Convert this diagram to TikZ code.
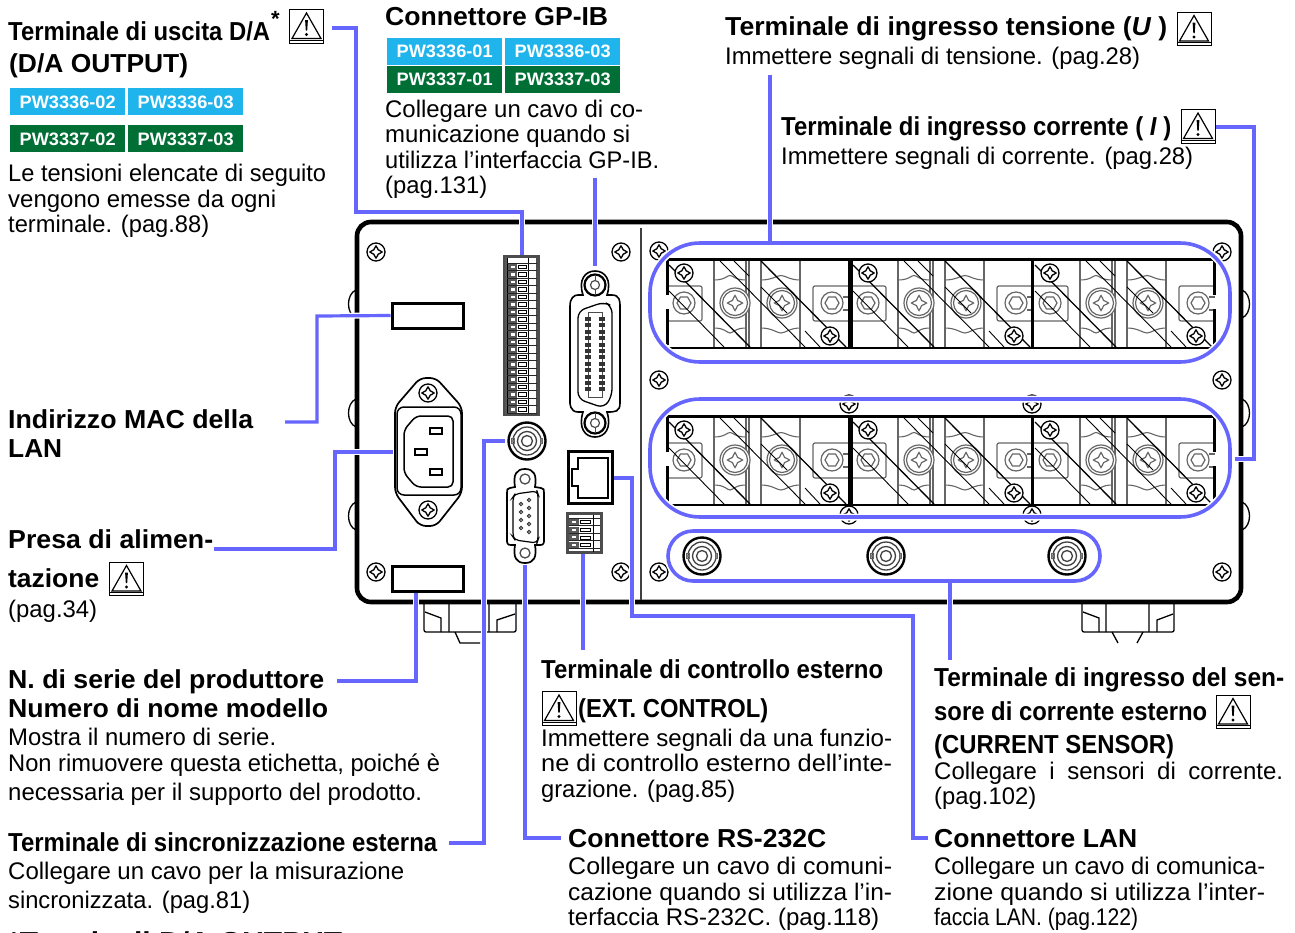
\documentclass[tikz,border=0pt]{standalone}
\usepackage{fontspec}
\setmainfont{Liberation Sans}
\definecolor{blueC}{HTML}{6666FF}
\definecolor{tagB}{HTML}{1FB5EC}
\definecolor{tagG}{HTML}{006F35}
\definecolor{grayL}{HTML}{666666}
\newsavebox\fitb
\newcommand\fitw[2]{\sbox\fitb{#2}\pgfmathsetmacro\fitr{#1/\the\wd\fitb}\scalebox{\fitr}[1]{\usebox\fitb}}
\newcommand\hd[5]{\node[headtext] (#1) at (#2,#3) {\fitw{#4}{#5}};}
\newcommand\bd[5]{\node[bodytext] (#1) at (#2,#3) {\fitw{#4}{#5}};}
\newcommand\tagb[5]{\node[tagbox,fill=#1] (#2) at (#3,#4) {}; \node[tagtext] (#2t) at (#3-48,#4+6.5) {\fitw{96}{#5}};}
\tikzset{
 headtext/.style={anchor=base west,inner sep=0pt,font=\fontsize{26}{30}\selectfont\bfseries},
 bodytext/.style={anchor=base west,inner sep=0pt,font=\fontsize{24}{28}\selectfont},
 tagbox/.style={minimum width=115pt,minimum height=27pt,inner sep=0pt,draw=none},
 tagtext/.style={anchor=base west,inner sep=0pt,text=white,font=\fontsize{18}{20}\selectfont\bfseries},
 labelbox/.style={draw=black,line width=3pt,inner sep=0pt,minimum width=71pt,minimum height=25pt},
 conn/.style={draw=blueC,line width=3.2pt,preaction={draw=white,line width=6pt}},
 group/.style={draw=blueC,line width=3.6pt,preaction={draw=white,line width=7pt}},
 screw/.pic={
  \draw[black,line width=1.3pt,fill=white] (0,0) circle (9);
  \draw[black,line width=1.3pt,fill=white] plot[smooth cycle,tension=.8] coordinates {(6,0)(2.2,2.2)(0,6)(-2.2,2.2)(-6,0)(-2.2,-2.2)(0,-6)(2.2,-2.2)};
 },
 bigcross/.pic={
  \draw[grayL,line width=1.2pt,fill=white] (0,0) circle (15) (0,0) circle (12.5);
  \draw[grayL,line width=1.2pt] plot[smooth cycle,tension=.8] coordinates {(7.5,0)(2.6,2.6)(0,7.5)(-2.6,2.6)(-7.5,0)(-2.6,-2.6)(0,-7.5)(2.6,-2.6)};
 },
 hexnut/.pic={
  \draw[grayL,line width=1.2pt,fill=white] (0,0) circle (11);
  \draw[grayL,line width=1.2pt] (0:7)--(60:7)--(120:7)--(180:7)--(240:7)--(300:7)--cycle;
 },
 bnc/.pic={
  \draw[black,line width=2.4pt,fill=white] (0,0) circle (18.5);
  \draw[black!75,line width=1.3pt] (0,0) circle (14) (0,0) circle (9.5) (0,0) circle (5.5);
  \draw[black!60,line width=1pt] (-15.5,-2.5) rectangle (-13,2.5) (13,-2.5) rectangle (15.5,2.5);
 },
 warnicon/.pic={
  \draw[black,line width=1pt,fill=white] (0,0) rectangle (34,33.5);
  \draw[black,line width=.8pt] (0,30.5)--(34,30.5);
  \draw[black,line width=1.2pt,line join=miter] (17,3.5)--(31.5,29)--(2.5,29)--cycle;
  \fill[black] (15.6,10.5)--(18.4,10.5)--(17.7,21)--(16.3,21)--cycle;
  \fill[black] (17,25) circle (1.7);
 },
 tmodule/.pic={
  \draw[grayL,line width=1.2pt] (47,0)--(47,89) (79,0)--(79,89) (82,0)--(82,89) (94,0)--(94,89) (133,0)--(133,89);
  \draw[grayL,line width=1.2pt,rounded corners=2pt,fill=white] (0,27)--(35,27)--(35,62)--(0,62);
  \draw[grayL,line width=1.2pt,rounded corners=2pt,fill=white] (182,27)--(146,27)--(146,62)--(182,62);
  \draw[grayL,line width=1.1pt]
    (47,21) .. controls (58,21) and (60,16.5) .. (63,16.5) .. controls (66,16.5) and (68,21) .. (79,21)
    (47,69) .. controls (58,69) and (60,74) .. (63,74) .. controls (66,74) and (68,69) .. (79,69)
    (94,21) .. controls (105,21) and (110,16.5) .. (114,16.5) .. controls (118,16.5) and (123,21) .. (133,21)
    (94,69) .. controls (105,69) and (110,74) .. (114,74) .. controls (118,74) and (123,69) .. (133,69);
  \pic at (17,44) {hexnut};
  \pic at (68,44) {bigcross};
  \pic at (115,44) {bigcross};
  \pic at (165,44) {hexnut};
  \draw[grayL,line width=1.2pt] (176,38)--(182,38) (176,51)--(182,51) (0,38)--(0,38);
  \draw[black,line width=.9pt] (2,32)--(57,88) (53,2)--(138,88) (67,2)--(82,17) (138,72)--(153,88) (94,28)--(120,54);
  \draw[black,line width=1.3pt] (2,6)--(83,88) (94,2)--(179,88);
  \pic at (17,14) {screw};
  \pic at (163,77) {screw};
  \draw[black,line width=3pt] (0,0)--(182,0);
  \draw[black,line width=2.2pt] (0,89)--(182,89);
 },
}
\begin{document}
\begin{tikzpicture}[x=1pt,y=-1pt]
\useasboundingbox (0,0) rectangle (1295,932);
\fill[white] (0,0) rectangle (1295,932);

% side bumps
\foreach \y in {290,399,502}{
 \draw[black,line width=1.3pt] (356,\y) .. controls (346,\y+4) and (346,\y+24) .. (356,\y+28);
 \draw[black,line width=1.3pt] (1242,\y) .. controls (1252,\y+4) and (1252,\y+24) .. (1242,\y+28);
}
% feet
\draw[black,line width=1.3pt,rounded corners=2pt] (424,602)--(424,632)--(516,632)--(516,602);
\draw[black,line width=1.3pt] (441,632)--(441,618)--(425,612) (449,604)--(449,632) (489,604)--(489,632) (497,632)--(497,620)--(515,614) (455,632)--(460,643)--(480,643);
\draw[black,line width=1.3pt,rounded corners=2pt] (1082,602)--(1082,632)--(1174,632)--(1174,602);
\draw[black,line width=1.3pt] (1099,632)--(1099,618)--(1083,612) (1106,604)--(1106,632) (1149,604)--(1149,632) (1157,632)--(1157,620)--(1173,614) (1112,632)--(1118,643) (1143,632)--(1137,643);

% housing
\node[draw=black,line width=4.6pt,rounded corners=14pt,inner sep=0pt,minimum width=884pt,minimum height=380pt,fill=white] (housing) at (799,412) {};
\draw[black!75,line width=2pt] (641,228)--(641,600);

% screws
\foreach \x/\y in {376/252,621/252,376/572,621/572,659/251,659/380,1222/252,1222/380,1222/572,659/572,849/404,1032/404,849/515,1032/515}{
 \pic at (\x,\y) {screw};
}

% label plates
\node[labelbox] (macbox) at (427.5,315.5) {};
\node[labelbox] (serialbox) at (427.5,578.5) {};

% D/A terminal block
\node[draw=black!70,line width=2.4pt,fill=white,inner sep=0pt,minimum width=34pt,minimum height=158pt] (dablock) at (521.5,335.5) {};
\fill[black!65] (505,257) rectangle (507.5,414);
\fill[black!70] (536,257) rectangle (538,414);
\draw[black,line width=.8pt] (528,258)--(528,414) (507,258)--(507,414);
\foreach \i in {0,...,20}{
 \draw[black!85,line width=.9pt] (507,263+\i*7.5)--(537,263+\i*7.5);
}
\foreach \i in {0,...,19}{
 \fill[black!65] (507.5,263.5+\i*7.5) rectangle (516.5,270+\i*7.5);
 \fill[white] (511,265.5+\i*7.5) rectangle (515,268+\i*7.5);
 \draw[black,line width=.8pt,fill=white] (518,265+\i*7.5) rectangle (526.5,268.5+\i*7.5);
}

% GP-IB connector
\coordinate (gpibc) at (595,354);
\draw[black,line width=1.6pt,fill=white] (583,295) .. controls (578,280) and (585,271) .. (595,271) .. controls (605,271) and (612,280) .. (607,295) -- (612,295) .. controls (620,295) and (620,302) .. (620,306) -- (620,403) .. controls (620,412) and (615,412) .. (607,412) .. controls (612,428) and (605,437) .. (595,437) .. controls (585,437) and (578,428) .. (583,412) -- (578,412) .. controls (570,412) and (570,403) .. (570,403) -- (570,306) .. controls (570,298) and (574,295) .. (578,295) -- cycle;
\draw[black,line width=1.3pt,rounded corners=7pt] (578,311)--(604,302)--(612,306)--(612,396)--(604,408)--(578,399)--cycle;
\foreach \y in {285,423}{
 \draw[black,line width=2.2pt] (595,\y) circle (10.5);
 \draw[black!70,line width=1.2pt] (595,\y) circle (4.5);
 \draw[black!70,line width=1pt] (595,\y-10)--(595,\y-4.5) (595,\y+4.5)--(595,\y+10);
}
\draw[black!70,line width=1pt] (588,312) rectangle (602,397);
\foreach \i in {0,...,11}{
 \fill[black!80] (585,317+\i*6.4) rectangle (591,321+\i*6.4);
 \fill[black!80] (599,317+\i*6.4) rectangle (605,321+\i*6.4);
}

% power inlet
\draw[black,line width=1.7pt,fill=white,rounded corners=6pt] (395,407)--(420,378)--(436,378)--(462,407)--(462,493)--(436,526)--(420,526)--(395,493)--cycle;
\draw[black,line width=1.5pt,rounded corners=7pt] (397,407)--(461,407)--(461,495)--(397,495)--cycle;
\draw[black,line width=1.5pt,rounded corners=5pt] (416,416)--(453,416)--(453,487)--(416,487)--(404,473)--(404,430)--cycle;
\node[draw=black,line width=1.2pt,inner sep=0pt,minimum width=12pt,minimum height=6pt] (pin1) at (436,431) {};
\node[draw=black,line width=1.2pt,inner sep=0pt,minimum width=12pt,minimum height=6pt] (pin2) at (421,452) {};
\node[draw=black,line width=1.2pt,inner sep=0pt,minimum width=12pt,minimum height=6pt] (pin3) at (436,472) {};
\pic at (428,393) {screw};
\pic at (428,510) {screw};

% sync BNC and sensor BNCs
\pic at (527,441) {bnc};
\pic at (702,556) {bnc};
\pic at (886,556) {bnc};
\pic at (1067,556) {bnc};

% RS-232C
\draw[black,line width=1.7pt,fill=white] (515,487) .. controls (513,475) and (516,469) .. (525,469) .. controls (534,469) and (537,475) .. (535,487) -- (541,488) .. controls (544,488) and (544,490) .. (544,493) -- (544,539) .. controls (544,543) and (544,545) .. (540,545) -- (535,545) .. controls (537,557) and (534,563) .. (525,563) .. controls (516,563) and (513,557) .. (515,545) -- (511,545) .. controls (507,545) and (507,543) .. (507,539) -- (507,493) .. controls (507,490) and (507,488) .. (510,488) -- cycle;
\draw[black,line width=1.2pt,rounded corners=4pt] (515,494)--(537,491)--(538,494)--(538,540)--(537,543)--(515,540)--(513,537)--(513,497)--cycle;
\draw[black!70,line width=1.3pt] (525,479) circle (5) (525,553) circle (5);
\foreach \y in {500,508,516,524,532}{\draw[black!80,line width=1pt] (529,\y) circle (1.7);}
\foreach \y in {504,512,520,528}{\draw[black!80,line width=1pt] (521,\y) circle (1.7);}

% LAN
\node[draw=black,line width=2.2pt,inner sep=0pt,minimum width=44pt,minimum height=52pt] (lanport) at (590.5,477.5) {};
\draw[black,line width=1.5pt] (578,458)--(608,458)--(608,498)--(578,498)--(578,486)--(572,486)--(572,469)--(578,469)--cycle;

% external control terminal
\node[draw=black!70,line width=2.2pt,fill=white,inner sep=0pt,minimum width=34pt,minimum height=39pt] (extblock) at (584.5,533) {};
\draw[black!85,line width=.9pt] (569,518)--(600,518);
\draw[black,line width=.8pt] (593,515)--(593,552);
\foreach \i in {0,...,3}{
 \draw[black!85,line width=.9pt] (569,525.5+\i*7.7)--(600,525.5+\i*7.7);
 \fill[black!65] (569,519+\i*7.7) rectangle (579,525+\i*7.7);
 \fill[white] (572,521+\i*7.7) rectangle (576,523+\i*7.7);
 \draw[black,line width=.8pt,fill=white] (580,520.5+\i*7.7) rectangle (590,523.5+\i*7.7);
}

% power terminal modules
\foreach \yy in {259,416}{
 \foreach \xx in {667,851,1033}{
  \pic at (\xx,\yy) {tmodule};
 }
 \draw[black,line width=3pt] (667,\yy-1)--(667,\yy+36) (667,\yy+50)--(667,\yy+86)
   (849,\yy-1)--(849,\yy+90) (851.5,\yy-1)--(851.5,\yy+90) (1032,\yy-1)--(1032,\yy+90)
   (1214,\yy-1)--(1214,\yy+36) (1214,\yy+50)--(1214,\yy+86);
}

% blue groupings
\node[group,rounded corners=50pt,inner sep=0pt,minimum width=580pt,minimum height=119pt] (rowU) at (940,302.5) {};
\node[group,rounded corners=50pt,inner sep=0pt,minimum width=580pt,minimum height=118pt] (rowI) at (940,458) {};
\node[group,rounded corners=25pt,inner sep=0pt,minimum width=432pt,minimum height=50pt] (rowS) at (884,556) {};

% free ends of connectors
\coordinate (aDA) at (332,28);
\coordinate (aGP) at (595,178);
\coordinate (aU) at (770,75);
\coordinate (aI) at (1214,127);
\coordinate (aMac) at (285,422);
\coordinate (aPow) at (214,549);
\coordinate (aSer) at (337,681);
\coordinate (aSyn) at (449,843);
\coordinate (aRS) at (561,838);
\coordinate (aExt) at (583,650);
\coordinate (aLan) at (928,838);
\coordinate (aSen) at (950,660);
\coordinate (bDA) at (522,255);
\coordinate (bGP) at (595,266);
\coordinate (bI) at (1235,459);
\coordinate (bPow) at (393,452);
\coordinate (bSyn) at (505,441);
\coordinate (bRS) at (525,565);
\coordinate (bExt) at (583,554);
\coordinate (bLan) at (614,478);

% connectors
\draw[conn] (aDA) -| (356,212) -| (bDA);
\draw[conn] (aGP) -- (bGP);
\draw[conn] (aU) -- (aU |- rowU.north);
\draw[conn] (aI) -| (1254,459) -- (bI);
\draw[conn] (aMac) -| (317,316) -- (macbox.west);
\draw[conn] (aPow) -| (335,452) -- (bPow);
\draw[conn] (aSer) -| (serialbox.south -| 416,592);
\draw[conn] (aSyn) -| (484,441) -- (bSyn);
\draw[conn] (bRS) |- (aRS);
\draw[conn] (bExt) -- (aExt);
\draw[conn] (bLan) -| (632,616) -| (913,838) -- (aLan);
\draw[conn] (aSen) -- (aSen |- rowS.south);

% tags
\tagb{tagB}{t1}{67.5}{101.5}{PW3336-02}
\tagb{tagB}{t2}{185.5}{101.5}{PW3336-03}
\tagb{tagG}{t3}{67.5}{138.5}{PW3337-02}
\tagb{tagG}{t4}{185.5}{138.5}{PW3337-03}
\tagb{tagB}{t5}{444.5}{51}{PW3336-01}
\tagb{tagB}{t6}{562.5}{51}{PW3336-03}
\tagb{tagG}{t7}{444.5}{79}{PW3337-01}
\tagb{tagG}{t8}{562.5}{79}{PW3337-03}

% warning icons
\foreach \x/\y in {289.5/9.5,1177/12,1181/109.5,109.5/562,542/691.5,1216/695}{
 \pic at (\x,\y) {warnicon};
}

% texts
\hd{tDA}{8}{40}{262}{Terminale di uscita D/A}
\node[anchor=base west,inner sep=0pt,font=\fontsize{22}{24}\selectfont\bfseries] (tDAs) at (271,26) {*};
\hd{tDAb}{9}{72}{179}{(D/A OUTPUT)}
\bd{tDA1}{8}{181}{318}{Le tensioni elencate di seguito}
\bd{tDA2}{8}{207}{268}{vengono emesse da ogni}
\bd{tDA3}{8}{232}{201}{terminale. (pag.88)}

\hd{tGP}{385}{25}{223}{Connettore GP-IB}
\bd{tGP1}{385}{117}{258}{Collegare un cavo di co-}
\bd{tGP2}{385}{142}{245}{municazione quando si}
\bd{tGP3}{385}{168}{274}{utilizza l’interfaccia GP-IB.}
\bd{tGP4}{385}{193}{102}{(pag.131)}

\hd{tU}{725}{35}{442}{Terminale di ingresso tensione ({\itshape U} )}
\bd{tU1}{725}{64}{415}{Immettere segnali di tensione. (pag.28)}
\hd{tI}{781}{135}{390}{Terminale di ingresso corrente ( {\itshape I} )}
\bd{tI1}{781}{164}{412}{Immettere segnali di corrente. (pag.28)}

\hd{tMac}{8}{428}{245}{Indirizzo MAC della}
\hd{tMac2}{8}{457}{54}{LAN}
\hd{tPow}{8}{548}{205}{Presa di alimen-}
\hd{tPow2}{8}{587}{91}{tazione}
\bd{tPow3}{8}{617}{89}{(pag.34)}

\hd{tSer}{8}{688}{316}{N. di serie del produttore}
\hd{tSer2}{8}{717}{320}{Numero di nome modello}
\bd{tSer3}{8}{745}{268}{Mostra il numero di serie.}
\bd{tSer4}{8}{771}{432}{Non rimuovere questa etichetta, poiché è}
\bd{tSer5}{8}{800}{414}{necessaria per il supporto del prodotto.}

\hd{tSyn}{8}{851}{429}{Terminale di sincronizzazione esterna}
\bd{tSyn1}{8}{879}{396}{Collegare un cavo per la misurazione}
\bd{tSyn2}{8}{908}{242}{sincronizzata. (pag.81)}
\hd{tStar}{8}{950}{334}{*Terminali D/A OUTPUT}

\hd{tExt}{541}{678}{342}{Terminale di controllo esterno}
\hd{tExt2}{578}{717}{190}{(EXT. CONTROL)}
\bd{tExt3}{541}{746}{351}{Immettere segnali da una funzio-}
\bd{tExt4}{541}{771}{351}{ne di controllo esterno dell’inte-}
\bd{tExt5}{541}{797}{194}{grazione. (pag.85)}

\hd{tSen}{934}{686}{350}{Terminale di ingresso del sen-}
\hd{tSen2}{934}{720}{273}{sore di corrente esterno}
\hd{tSen3}{934}{753}{240}{(CURRENT SENSOR)}
\node[bodytext] (tSen4) at (934,779) {\makebox[349pt][s]{Collegare i sensori di corrente.}};
\bd{tSen5}{934}{804}{102}{(pag.102)}

\hd{tRS}{568}{847}{258}{Connettore RS-232C}
\bd{tRS1}{568}{874}{324}{Collegare un cavo di comuni-}
\bd{tRS2}{568}{900}{324}{cazione quando si utilizza l’in-}
\bd{tRS3}{568}{925}{311}{terfaccia RS-232C. (pag.118)}

\hd{tLan}{934}{847}{203}{Connettore LAN}
\bd{tLan1}{934}{874}{331}{Collegare un cavo di comunica-}
\bd{tLan2}{934}{900}{331}{zione quando si utilizza l’inter-}
\bd{tLan3}{934}{925}{204}{faccia LAN. (pag.122)}
\end{tikzpicture}
\end{document}
